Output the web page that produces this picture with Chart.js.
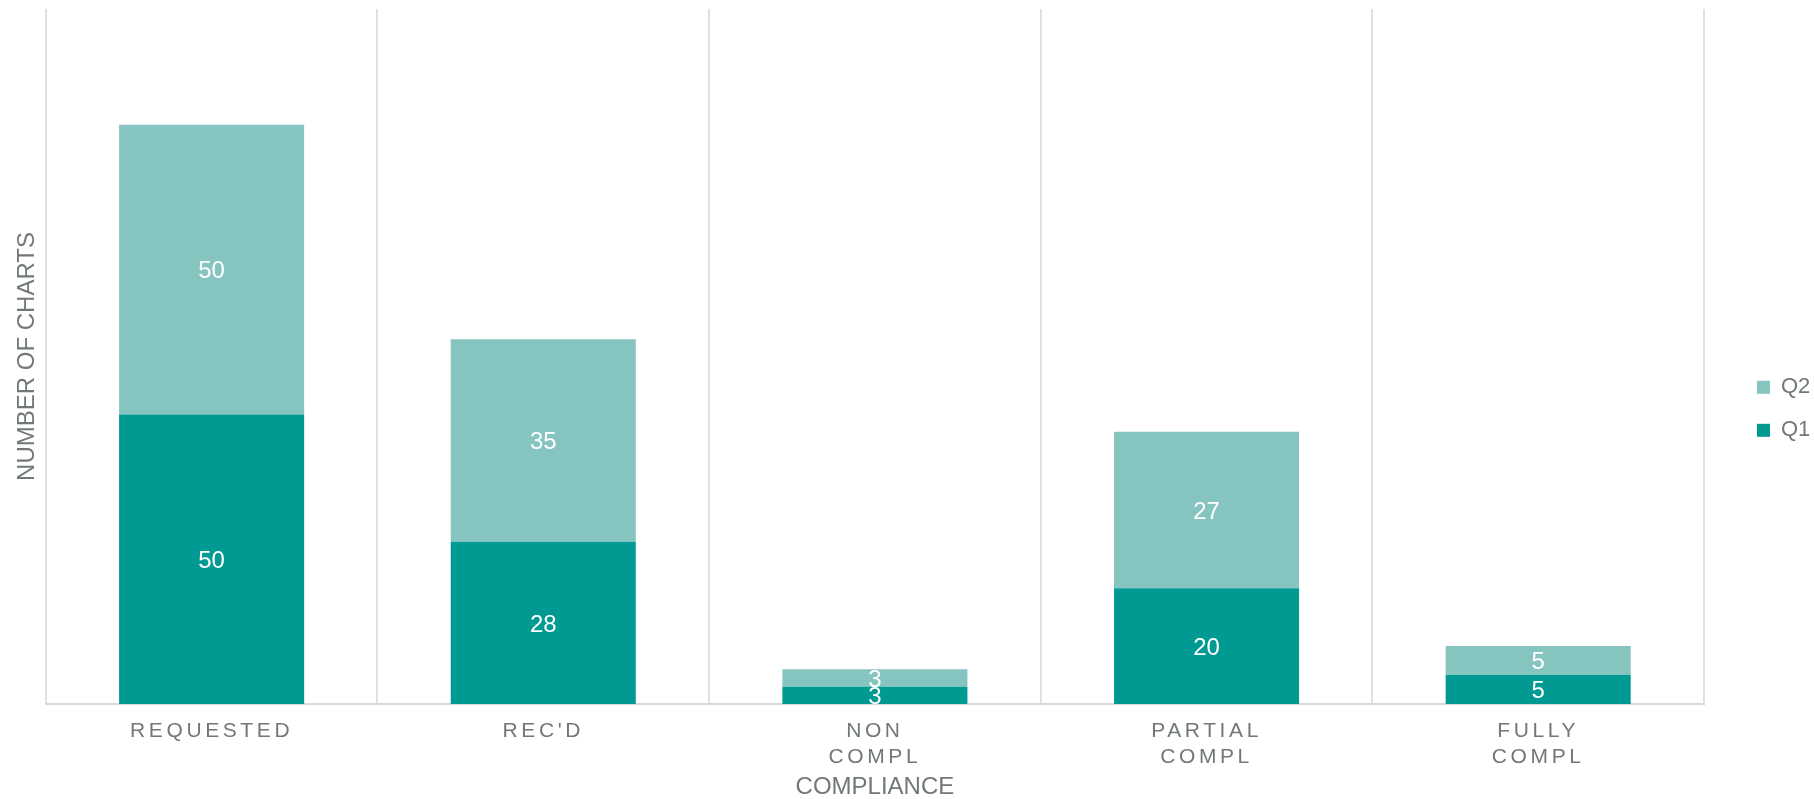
<!DOCTYPE html>
<html>
<head>
  <title>Compliance</title>
  <style>
    body { margin: 0; background: #fff; }
    .chart-box { width: 1814px; height: 799px; }
  </style>
</head>
<body>

<div class="chart-box">
  <canvas id="compliance-chart"></canvas>
</div>

<script src="https://cdn.jsdelivr.net/npm/chart.js"></script>
<script>
const categories = ['REQUESTED', "REC'D", ['NON', 'COMPL'], ['PARTIAL', 'COMPL'], ['FULLY', 'COMPL']];
const q1Values = [50, 28, 3, 20, 5];
const q2Values = [50, 35, 3, 27, 5];

const fontFamily = '"Liberation Sans", Arial, sans-serif';
const textGray = '#727878';

// white value labels in the middle of each stacked segment
const valueLabels = {
  id: 'valueLabels',
  afterDatasetsDraw(chart) {
    const ctx = chart.ctx;
    ctx.save();
    ctx.font = '24px ' + fontFamily;
    ctx.fillStyle = '#ffffff';
    ctx.textAlign = 'center';
    ctx.textBaseline = 'middle';
    chart.data.datasets.forEach((ds, i) => {
      chart.getDatasetMeta(i).data.forEach((bar, j) => {
        const p = bar.getProps(['x', 'y', 'base'], true);
        ctx.fillText(ds.data[j], p.x, (p.y + p.base) / 2 + 2);
      });
    });
    ctx.restore();
  }
};

// spaced-out category labels on the x axis
const spacedTicks = {
  id: 'spacedTicks',
  afterUpdate(chart) {
    const s = chart.scales.x;
    if (s && !s._spaced) {
      const orig = s.drawLabels.bind(s);
      s.drawLabels = function(area) {
        this.ctx.save();
        this.ctx.letterSpacing = '3.6px';
        orig(area);
        this.ctx.restore();
      };
      s._spaced = true;
    }
  }
};

const ctx = document.getElementById('compliance-chart').getContext('2d');
new Chart(ctx, {
  type: 'bar',
  data: {
    labels: categories,
    datasets: [
      { label: 'Q1', data: q1Values, backgroundColor: '#009A93', barPercentage: 0.558, categoryPercentage: 1.0 },
      { label: 'Q2', data: q2Values, backgroundColor: '#86C4C0', barPercentage: 0.558, categoryPercentage: 1.0 }
    ]
  },
  options: {
    responsive: true,
    maintainAspectRatio: false,
    animation: false,
    layout: { padding: { left: 9, top: 9, right: 0, bottom: 0 } },
    plugins: {
      legend: {
        position: 'right',
        reverse: true,
        maxWidth: 78,
        title: { display: true, text: ' ', font: { size: 8 }, padding: 0 },
        labels: {
          boxWidth: 13,
          boxHeight: 13,
          padding: 21,
          color: textGray,
          font: { family: fontFamily, size: 22 }
        }
      },
      tooltip: { enabled: false }
    },
    scales: {
      x: {
        stacked: true,
        offset: true,
        grid: { display: true, offset: true, color: '#e0e0e0', lineWidth: 2, drawTicks: false },
        border: { display: true, color: '#d9d9d9', width: 2 },
        ticks: {
          color: textGray,
          padding: 15,
          maxRotation: 0,
          autoSkip: false,
          font: { family: fontFamily, size: 21, lineHeight: 1.2 }
        },
        title: {
          display: true,
          text: 'COMPLIANCE',
          color: textGray,
          font: { family: fontFamily, size: 24, lineHeight: 1 },
          padding: { top: 8, bottom: 0 }
        },
        afterFit(scale) { scale.height = 95; }
      },
      y: {
        stacked: true,
        min: 0,
        max: 120,
        grid: { display: false, drawTicks: false },
        border: { display: false },
        ticks: { display: false },
        title: {
          display: true,
          text: 'NUMBER OF CHARTS',
          color: textGray,
          font: { family: fontFamily, size: 24 },
          padding: { top: 4, bottom: 4 }
        }
      },
      yGap: {
        position: 'right',
        grid: { display: false, drawTicks: false },
        border: { display: false },
        ticks: { display: false },
        afterFit(scale) { scale.width = 32; }
      }
    }
  },
  plugins: [valueLabels, spacedTicks]
});
</script>

</body>
</html>
